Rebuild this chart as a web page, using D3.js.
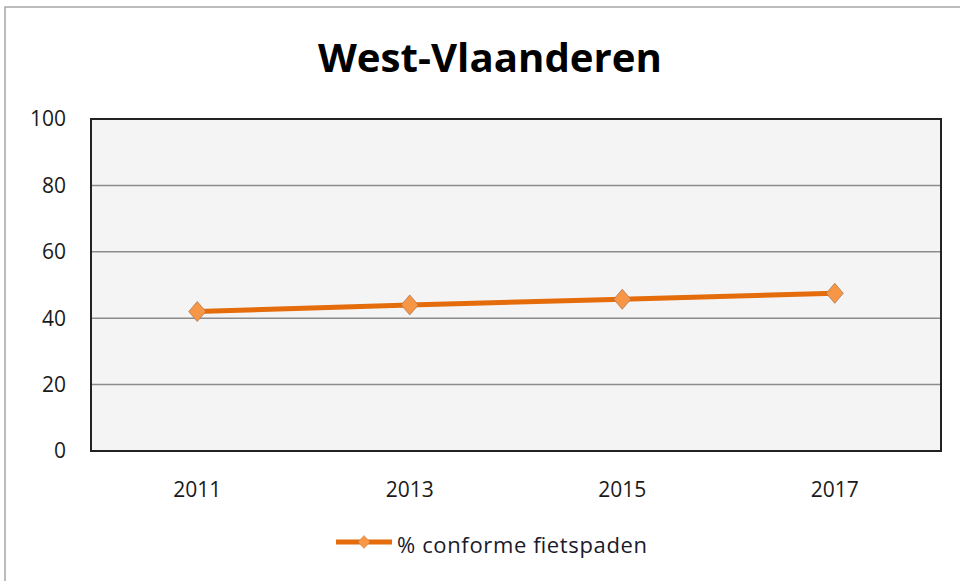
<!DOCTYPE html>
<html>
<head>
<meta charset="utf-8">
<script src="https://cdn.jsdelivr.net/npm/d3@7"></script>
<style>
  html, body { margin: 0; padding: 0; background: #fff; }
  svg { display: block; }
</style>
</head>
<body>
<svg width="960" height="581"></svg>
<script>
// chart data
const chartTitle = 'West-Vlaanderen'
const years = ['2011', '2013', '2015', '2017']
const conformPct = [42, 44, 45.7, 47.5]
const seriesName = '% conforme fietspaden'
const yTicks = [0, 20, 40, 60, 80, 100]

const svg = d3.select('svg'),
  width = +svg.attr('width'),
  height = +svg.attr('height')

const margin = { top: 119, right: 19, bottom: 130, left: 91 }
const plotW = width - margin.left - margin.right,
  plotH = height - margin.top - margin.bottom

// outer chart frame
svg.append('rect')
  .attr('x', 5).attr('y', 7)
  .attr('width', width + 10).attr('height', height + 10)
  .style('fill', '#fff').style('stroke', '#a6a6a6').style('stroke-width', 1.5)

svg.append('text')
  .attr('x', 490).attr('y', 72)
  .attr('text-anchor', 'middle')
  .attr('textLength', 344)
  .attr('lengthAdjust', 'spacingAndGlyphs')
  .style('font-family', '"Open Sans", "Noto Sans", sans-serif')
  .style('font-weight', 'bold')
  .style('font-size', '40px')
  .style('fill', '#000')
  .text(chartTitle)

const x = d3.scaleBand().domain(years).range([0, plotW])
const y = d3.scaleLinear().domain([0, 100]).range([plotH, 0])

const g = svg.append('g').attr('transform', `translate(${margin.left},${margin.top})`)

g.append('rect')
  .attr('width', plotW).attr('height', plotH)
  .style('fill', '#f4f4f4')

// gridlines
g.selectAll('.grid')
  .data(yTicks.slice(1, -1))
  .enter()
  .append('line')
  .attr('class', 'grid')
  .attr('x1', 0).attr('x2', plotW)
  .attr('y1', (d) => y(d)).attr('y2', (d) => y(d))
  .style('stroke', '#8c8c8c')
  .style('stroke-width', '1.5px')

g.append('rect')
  .attr('width', plotW).attr('height', plotH)
  .style('fill', 'none')
  .style('stroke', '#222')
  .style('stroke-width', '2px')

const labelFont = '"Open Sans", "DejaVu Sans", sans-serif'

// y tick labels
g.selectAll('.ylab')
  .data(yTicks)
  .enter()
  .append('text')
  .attr('class', 'ylab')
  .attr('x', -25)
  .attr('y', (d) => y(d))
  .attr('dy', '0.35em')
  .attr('text-anchor', 'end')
  .style('font-family', labelFont)
  .style('font-size', '21px')
  .style('fill', '#1a1a1a')
  .text((d) => d)

// x tick labels
g.selectAll('.xlab')
  .data(years)
  .enter()
  .append('text')
  .attr('class', 'xlab')
  .attr('x', (d) => x(d) + x.bandwidth() / 2)
  .attr('y', plotH + 39)
  .attr('dy', '0.35em')
  .attr('text-anchor', 'middle')
  .style('font-family', labelFont)
  .style('font-size', '21px')
  .style('fill', '#1a1a1a')
  .text((d) => d)

const pts = years.map((yr, i) => ({ yr, v: conformPct[i] }))

const line = d3.line()
  .x((d) => x(d.yr) + x.bandwidth() / 2)
  .y((d) => y(d.v))

g.append('path')
  .datum(pts)
  .attr('d', line)
  .style('fill', 'none')
  .style('stroke', '#e46c0a')
  .style('stroke-width', '5px')
  .style('stroke-linejoin', 'round')

// wide diamond marker, like the spreadsheet one
const diamondPath = (w, h) => `M0,${-h}L${w},0L0,${h}L${-w},0Z`

g.selectAll('.pt')
  .data(pts)
  .enter()
  .append('path')
  .attr('class', 'pt')
  .attr('d', diamondPath(8.5, 10))
  .attr('transform', (d) => `translate(${x(d.yr) + x.bandwidth() / 2},${y(d.v)})`)
  .style('fill', '#f79646')
  .style('stroke', '#b07850')
  .style('stroke-width', '0.8px')

// legend
const lg = svg.append('g').attr('transform', 'translate(336,542)')
lg.append('line')
  .attr('x1', 0).attr('x2', 56)
  .style('stroke', '#e46c0a').style('stroke-width', '5px')
lg.append('path')
  .attr('d', diamondPath(6, 6.5))
  .attr('transform', 'translate(28,0)')
  .style('fill', '#f79646')
  .style('stroke', '#c0804a')
  .style('stroke-width', '0.5px')
lg.append('text')
  .attr('x', 61).attr('y', 3).attr('dy', '0.35em')
  .attr('textLength', 250)
  .attr('lengthAdjust', 'spacing')
  .style('font-family', labelFont)
  .style('font-size', '22px')
  .style('fill', '#1a1a2a')
  .text(seriesName)
</script>
</body>
</html>
